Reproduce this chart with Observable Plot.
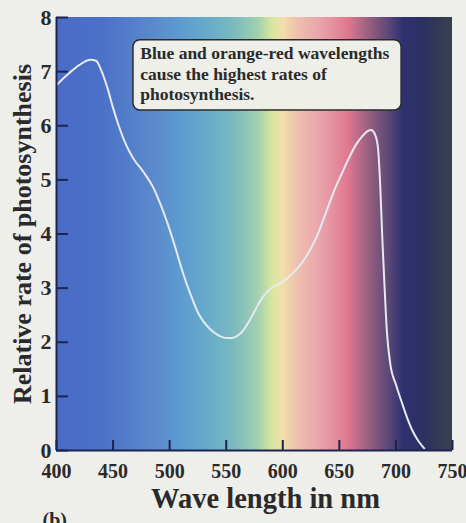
<!DOCTYPE html>
<html><head><meta charset="utf-8">
<script src="https://cdn.jsdelivr.net/npm/d3@7"></script>
<script src="https://cdn.jsdelivr.net/npm/@observablehq/plot@0.6"></script>
<style>
html,body{margin:0;padding:0;background:#eeeeeb;}
#chart{width:466px;height:523px;overflow:hidden;}
</style></head><body><div id="chart"></div>
<script>
// Curve
const wavelength = [400,410,420,430,435,440,445,450,455,460,465,470,475,480,485,490,495,500,505,510,515,520,525,530,535,540,545,550,555,560,565,570,575,580,585,590,595,600,605,610,615,620,625,630,635,640,645,650,655,660,665,670,675,678,681,684,686,688,690,692,695,700,705,710,715,720,725];
const rate =       [6.75,6.95,7.12,7.22,7.2,7.0,6.7,6.33,6.0,5.72,5.5,5.33,5.2,5.05,4.88,4.65,4.38,4.08,3.75,3.4,3.08,2.8,2.55,2.38,2.26,2.17,2.11,2.08,2.08,2.12,2.22,2.38,2.57,2.76,2.9,3.0,3.06,3.12,3.2,3.3,3.42,3.56,3.74,3.95,4.22,4.5,4.78,5.02,5.25,5.47,5.66,5.8,5.9,5.92,5.86,5.62,4.95,3.9,3.0,2.2,1.6,1.22,0.9,0.6,0.35,0.17,0.04];

const xTicks = [400,450,500,550,600,650,700,750];
const yTicks = [0,1,2,3,4,5,6,7,8];

// Background spectrum colour stops
const spectrumWavelength = [400,439,484,511,529,555,578,591,600,613,636,658,676,694,707,725,750];
const spectrumColor = ["#4a6cc4","#4a70c8","#5a88cc","#5e9cd0","#64a8cc","#78b8c0","#a0d0b0","#d8e6a0","#f0e0a8","#f0c0b0","#e8a0a8","#e07890","#9a6080","#5a4878","#303070","#2c3060","#3a4050"];

const noteText = "Blue and orange-red wavelengths\ncause the highest rates of\nphotosynthesis.";
const noteX = [468, 705];
const noteY = [6.28, 7.58];

const yLabel = "Relative rate of photosynthesis";
const xLabel = "Wave length in nm";
const panelLabel = "(b)";

const curve = wavelength.map((w, i) => ({w, r: rate[i]}));
const band = [{x1: spectrumWavelength[0], x2: spectrumWavelength[spectrumWavelength.length - 1], y1: yTicks[0], y2: yTicks[yTicks.length - 1]}];
const note = [{x1: noteX[0], x2: noteX[1], y1: noteY[0], y2: noteY[1], tx: noteX[0] + 6, ty: noteY[1] - 0.09, text: noteText}];

const ink = "#2a2a2a";
const axisInk = "#1d2450";

const chart = Plot.plot({
  width: 466, height: 523,
  marginLeft: 56, marginRight: 14, marginTop: 17, marginBottom: 73,
  style: {fontFamily: "'Liberation Serif', 'Times New Roman', serif", background: "transparent", color: ink},
  x: {domain: [400, 750]},
  y: {domain: [0, 8]},
  marks: [
    Plot.rect(band, {x1: "x1", x2: "x2", y1: "y1", y2: "y2", fill: "url(#spectrum)"}),
    Plot.line(curve, {x: "w", y: "r", curve: "monotone-x", stroke: "#e6eaf0", strokeWidth: 2}),
    Plot.rect(note, {x1: "x1", x2: "x2", y1: "y1", y2: "y2", rx: 7, fill: "#edefe8", stroke: ink, strokeWidth: 1.5}),
    Plot.text(note, {x: "tx", y: "ty", text: "text", textAnchor: "start", lineAnchor: "top", fontSize: 17.5, fontWeight: "bold", lineHeight: 1.15, fill: ink}),
    Plot.axisY({ticks: yTicks, tickSize: -12, tickPadding: 17, fontSize: 22, fontWeight: "bold", stroke: axisInk, strokeWidth: 2, fill: ink, label: null}),
    Plot.axisX({ticks: xTicks, tickSize: -10, tickPadding: 23, fontSize: 20, fontWeight: "bold", stroke: axisInk, strokeWidth: 2, fill: ink, label: null}),
    Plot.ruleX([xTicks[0]], {stroke: axisInk, strokeWidth: 2}),
    Plot.ruleY([yTicks[0]], {stroke: axisInk, strokeWidth: 2}),
    Plot.text([yLabel], {frameAnchor: "left", textAnchor: "middle", lineAnchor: "middle", dx: -34, rotate: -90, fontSize: 26, fontWeight: "bold", fill: ink}),
    Plot.text([xLabel], {frameAnchor: "bottom", textAnchor: "middle", lineAnchor: "bottom", dx: 11, dy: 57, fontSize: 28.5, fontWeight: "bold", fill: ink}),
    Plot.text([panelLabel], {frameAnchor: "bottom-left", textAnchor: "start", lineAnchor: "bottom", dx: -14, dy: 76, fontSize: 20, fontWeight: "bold", fill: ink})
  ]
});

const xs = chart.scale("x");
const defs = d3.select(chart).insert("defs", ":first-child");
const grad = defs.append("linearGradient")
  .attr("id", "spectrum")
  .attr("gradientUnits", "userSpaceOnUse")
  .attr("x1", xs.apply(spectrumWavelength[0])).attr("x2", xs.apply(spectrumWavelength[spectrumWavelength.length - 1]))
  .attr("y1", 0).attr("y2", 0);
const span = spectrumWavelength[spectrumWavelength.length - 1] - spectrumWavelength[0];
spectrumWavelength.forEach((w, i) => {
  grad.append("stop").attr("offset", (w - spectrumWavelength[0]) / span).attr("stop-color", spectrumColor[i]);
});

document.getElementById("chart").appendChild(chart);
</script>
</body></html>
